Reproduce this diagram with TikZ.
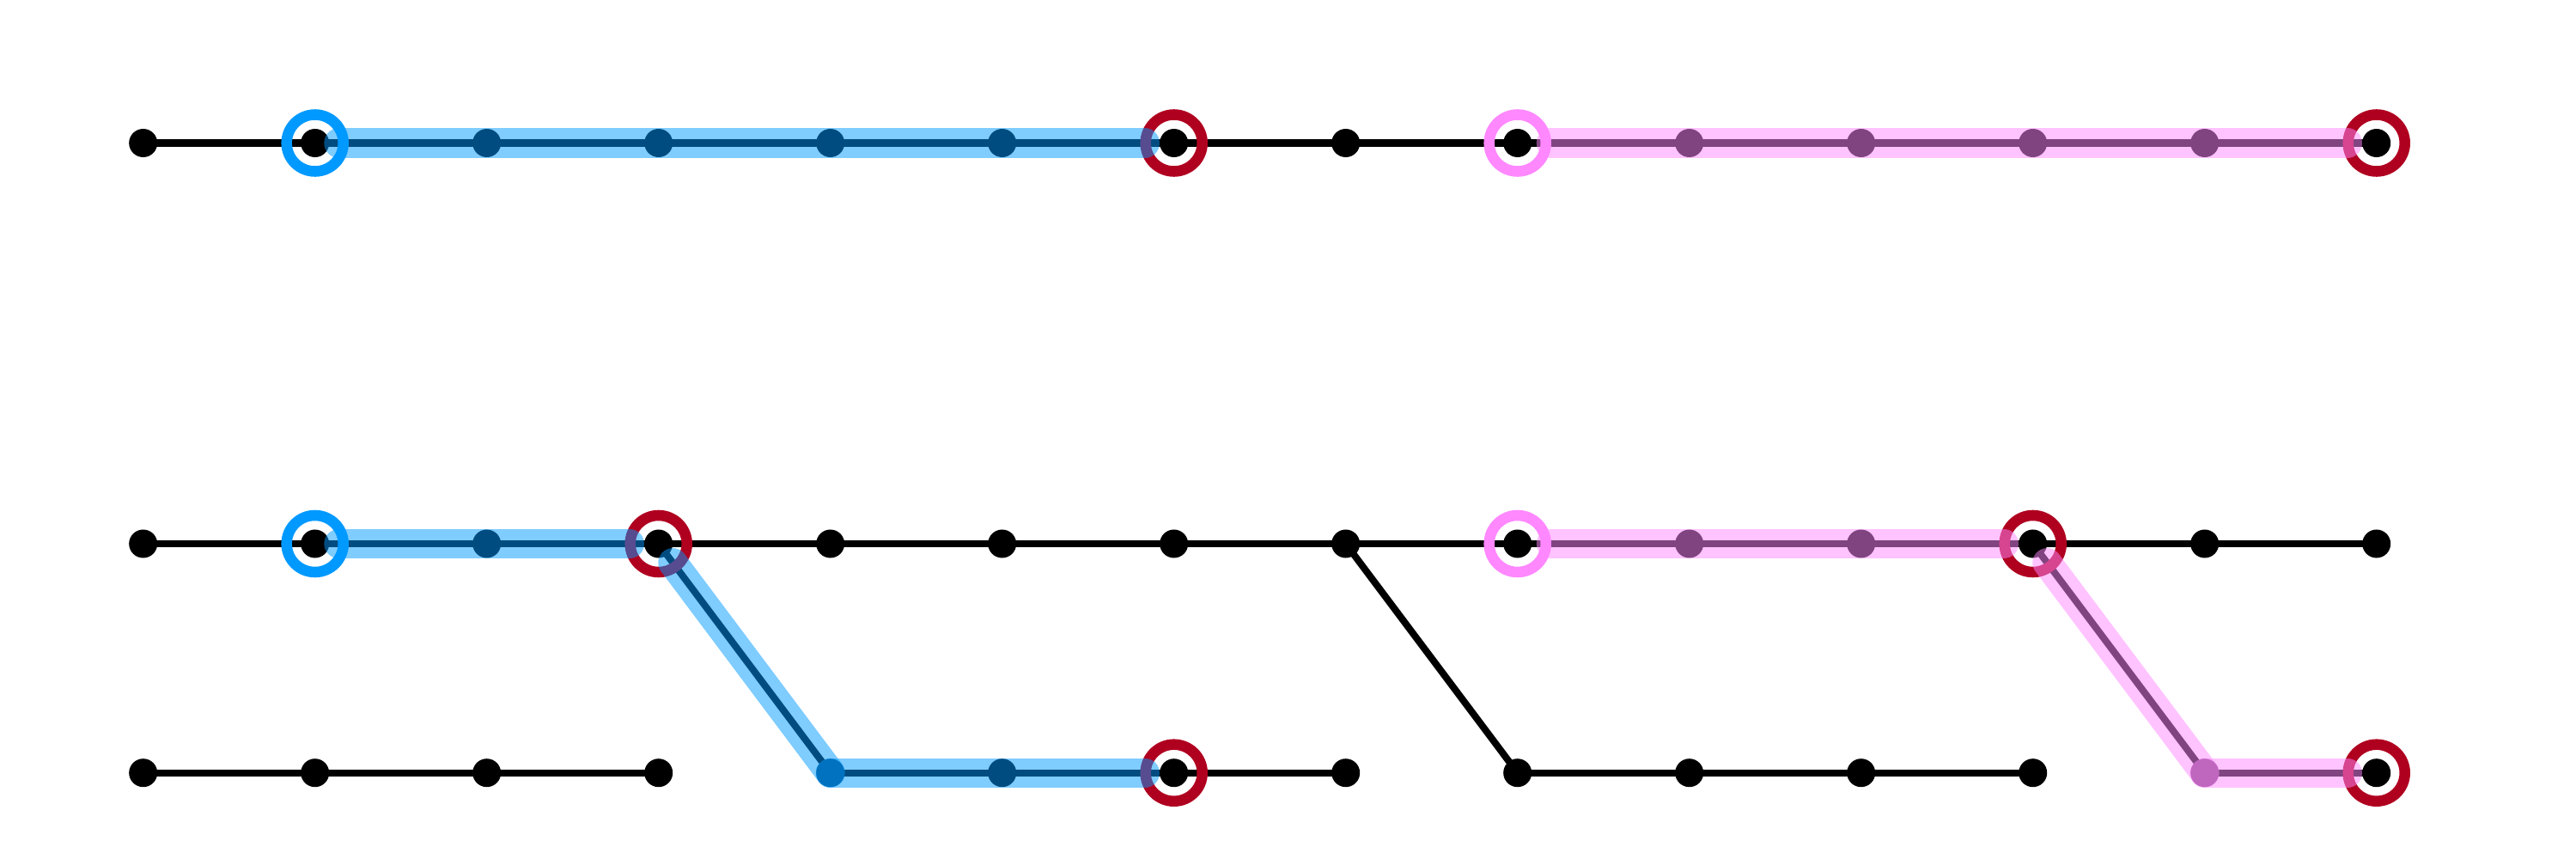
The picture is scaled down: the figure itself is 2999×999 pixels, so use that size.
\documentclass[tikz,border=0pt]{standalone}
\definecolor{ringred}{HTML}{B00020}
\definecolor{ringblue}{HTML}{0099FF}
\definecolor{ringpink}{HTML}{FF88FF}
\tikzset{
  dot/.style={circle, fill=black, inner sep=0pt, minimum size=0.33cm},
  link/.style={line width=0.08cm, black},
  ring/.style={circle, draw=#1, line width=0.125cm, inner sep=0pt, minimum size=0.66cm},
  band/.style={line width=0.34cm, draw=#1, opacity=0.5, line cap=round},
  bandfrom/.style={shorten <=0.276cm},
  pinkfrom/.style={shorten <=0.39cm},
  bandto/.style={shorten >=0.337cm}
}
\begin{document}
\begin{tikzpicture}[x=0.01cm,y=0.01cm]
\useasboundingbox (0,0) rectangle (2999,999);
% nodes
\foreach \i in {0,...,13} {
  \node[dot] (t\i) at ({166.7+200*\i},832.5) {};
  \node[dot] (m\i) at ({166.7+200*\i},366) {};
  \node[dot] (b\i) at ({166.7+200*\i},99.3) {};
}
% links
\foreach \i [evaluate=\i as \j using int(\i+1)] in {0,...,12} {
  \draw[link] (t\i.center) -- (t\j.center);
  \draw[link] (m\i.center) -- (m\j.center);
}
\foreach \i [evaluate=\i as \j using int(\i+1)] in {0,1,2,4,5,6,8,9,10,12} {
  \draw[link] (b\i.center) -- (b\j.center);
}
\draw[link] (m3.center) -- (b4.center);
\draw[link] (m7.center) -- (b8.center);
\draw[link] (m11.center) -- (b12.center);
% rings
\node[ring=ringblue] (r1) at (t1) {};
\node[ring=ringred]  (r2) at (t6) {};
\node[ring=ringpink] (r3) at (t8) {};
\node[ring=ringred]  (r4) at (t13) {};
\node[ring=ringblue] (r5) at (m1) {};
\node[ring=ringred]  (r6) at (m3) {};
\node[ring=ringred]  (r7) at (b6) {};
\node[ring=ringpink] (r8) at (m8) {};
\node[ring=ringred]  (r9) at (m11) {};
\node[ring=ringred]  (r10) at (b13) {};
% highlight bands
\draw[band=ringblue, bandfrom, bandto] (t1.center) -- (t6.center);
\draw[band=ringpink, pinkfrom, bandto] (t8.center) -- (t13.center);
\draw[band=ringblue, bandfrom, bandto] (m1.center) -- (m3.center);
\draw[band=ringblue, bandfrom] (m3.center) -- (b4.center);
\draw[band=ringblue, bandto] (b4.center) -- (b6.center);
\draw[band=ringpink, pinkfrom, bandto] (m8.center) -- (m11.center);
\draw[band=ringpink, bandfrom] (m11.center) -- (b12.center);
\draw[band=ringpink, bandto] (b12.center) -- (b13.center);
\end{tikzpicture}
\end{document}
